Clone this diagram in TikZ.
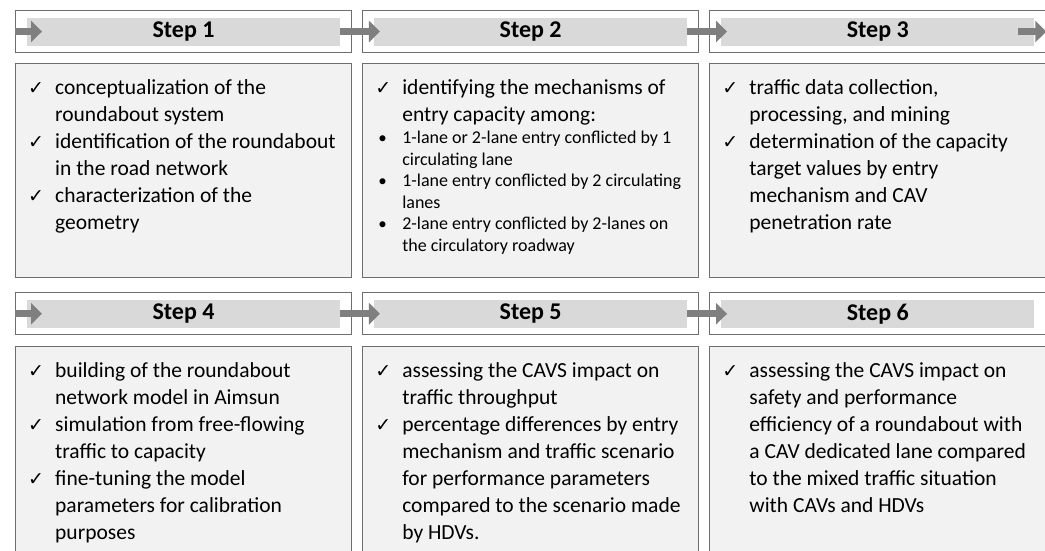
\documentclass[tikz,border=0pt]{standalone}
\usepackage{fontspec}
\setmainfont{Carlito}
\newfontfamily\symfont{DejaVu Sans}
\usepackage{xcolor}
\usetikzlibrary{positioning, arrows.meta}

\definecolor{frame}{RGB}{110,110,110}
\definecolor{barfill}{RGB}{217,217,217}
\definecolor{arrowfill}{RGB}{127,127,127}
\definecolor{panel}{RGB}{242,242,242}

% list marks and the smaller bullet text
\newcommand{\ck}{{\symfont\fontsize{19}{19}\selectfont ✓}}
\newcommand{\bl}{\hspace*{3pt}{\fontsize{17}{17}\selectfont •}}
\newcommand{\sm}[1]{{\fontsize{18}{21.5}\selectfont #1}}

\begin{document}
\begin{tikzpicture}[
      node distance=10pt,
      headbox/.style={draw=frame, line width=1.1pt, fill=white, minimum width=336pt, minimum height=42pt, inner sep=0pt},
      bodybox/.style={draw=frame, line width=1.1pt, fill=panel, minimum width=336pt, minimum height=214pt, inner sep=0pt},
      bar/.style={fill=barfill, minimum width=313pt, minimum height=28pt, inner sep=0pt, font=\fontsize{24}{28}\selectfont\bfseries},
      bodytext/.style={anchor=north west, inner sep=0pt, align=left, font=\fontsize{21.5}{27}\selectfont},
      flow/.style={draw=arrowfill, line width=7pt, -{Triangle[length=11pt, width=21pt, fill=arrowfill]}}
    ]
    \path[use as bounding box] (0,0) rectangle (1045pt,-550pt);
    \clip (0,0) rectangle (1045pt,-550pt);

    % upper row
    \node[headbox, anchor=north west] (h1) at (15pt,-10pt) {};
    \node[headbox] (h2) [right=of h1] {};
    \node[headbox] (h3) [right=of h2] {};
    \node[bodybox] (b1) [below=of h1] {};
    \node[bodybox] (b2) [below=of h2] {};
    \node[bodybox] (b3) [below=of h3] {};

    % lower row
    \node[headbox] (h4) [below=14pt of b1] {};
    \node[headbox] (h5) [right=of h4] {};
    \node[headbox] (h6) [right=of h5] {};
    \node[bodybox] (b4) [below=11pt of h4] {};
    \node[bodybox] (b5) [below=11pt of h5] {};
    \node[bodybox] (b6) [below=11pt of h6] {};

    \node[bar] (s1) at (h1) {Step 1};
    \node[bar] (s2) at (h2) {Step 2};
    \node[bar] (s3) at (h3) {Step 3};
    \node[bar] (s4) at (h4) {Step 4};
    \node[bar] (s5) at (h5) {Step 5};
    \node[bar] (s6) at (h6) {Step 6};

    % arrow ends
    \coordinate (in1) at ([xshift=27pt]h1.west);
    \coordinate (in2) at ([xshift=6pt]s2.west);
    \coordinate (in3) at ([xshift=6pt]s3.west);
    \coordinate (out3) at ([xshift=-16pt]s3.east);
    \coordinate (in4) at ([xshift=27pt]h4.west);
    \coordinate (in5) at ([xshift=6pt]s5.west);
    \coordinate (in6) at ([xshift=6pt]s6.west);

    \draw[flow] (h1.west) -- (in1);
    \draw[flow] (s1.east) -- (in2);
    \draw[flow] (s2.east) -- (in3);
    \draw[flow] (out3) -- (h3.east);
    \draw[flow] (h4.west) -- (in4);
    \draw[flow] (s4.east) -- (in5);
    \draw[flow] (s5.east) -- (in6);

    \node[bodytext] (t1) at ([xshift=13pt,yshift=-12pt]b1.north west) {\begin{tabular}{@{}p{27pt}@{}l@{}}
      \ck & conceptualization of the\\
          & roundabout system\\
      \ck & identification of the roundabout\\
          & in the road network\\
      \ck & characterization of the\\
          & geometry
    \end{tabular}};
    \node[bodytext] (t2) at ([xshift=13pt,yshift=-12pt]b2.north west) {\begin{tabular}{@{}p{27pt}@{}l@{}}
      \ck & identifying the mechanisms of\\
          & entry capacity among:\\[-4.5pt]
      \bl & \sm{1-lane or 2-lane entry conflicted by 1}\\[-5.5pt]
          & \sm{circulating lane}\\[-5.5pt]
      \bl & \sm{1-lane entry conflicted by 2 circulating}\\[-5.5pt]
          & \sm{lanes}\\[-5.5pt]
      \bl & \sm{2-lane entry conflicted by 2-lanes on}\\[-5.5pt]
          & \sm{the circulatory roadway}
    \end{tabular}};
    \node[bodytext] (t3) at ([xshift=13pt,yshift=-12pt]b3.north west) {\begin{tabular}{@{}p{27pt}@{}l@{}}
      \ck & traffic data collection,\\
          & processing, and mining\\
      \ck & determination of the capacity\\
          & target values by entry\\
          & mechanism and CAV\\
          & penetration rate
    \end{tabular}};
    \node[bodytext] (t4) at ([xshift=13pt,yshift=-12pt]b4.north west) {\begin{tabular}{@{}p{27pt}@{}l@{}}
      \ck & building of the roundabout\\
          & network model in Aimsun\\
      \ck & simulation from free-flowing\\
          & traffic to capacity\\
      \ck & fine-tuning the model\\
          & parameters for calibration\\
          & purposes
    \end{tabular}};
    \node[bodytext] (t5) at ([xshift=13pt,yshift=-12pt]b5.north west) {\begin{tabular}{@{}p{27pt}@{}l@{}}
      \ck & assessing the CAVS impact on\\
          & traffic throughput\\
      \ck & percentage differences by entry\\
          & mechanism and traffic scenario\\
          & for performance parameters\\
          & compared to the scenario made\\
          & by HDVs.
    \end{tabular}};
    \node[bodytext] (t6) at ([xshift=13pt,yshift=-12pt]b6.north west) {\begin{tabular}{@{}p{27pt}@{}l@{}}
      \ck & assessing the CAVS impact on\\
          & safety and performance\\
          & efficiency of a roundabout with\\
          & a CAV dedicated lane compared\\
          & to the mixed traffic situation\\
          & with CAVs and HDVs
    \end{tabular}};
  \end{tikzpicture}
\end{document}
